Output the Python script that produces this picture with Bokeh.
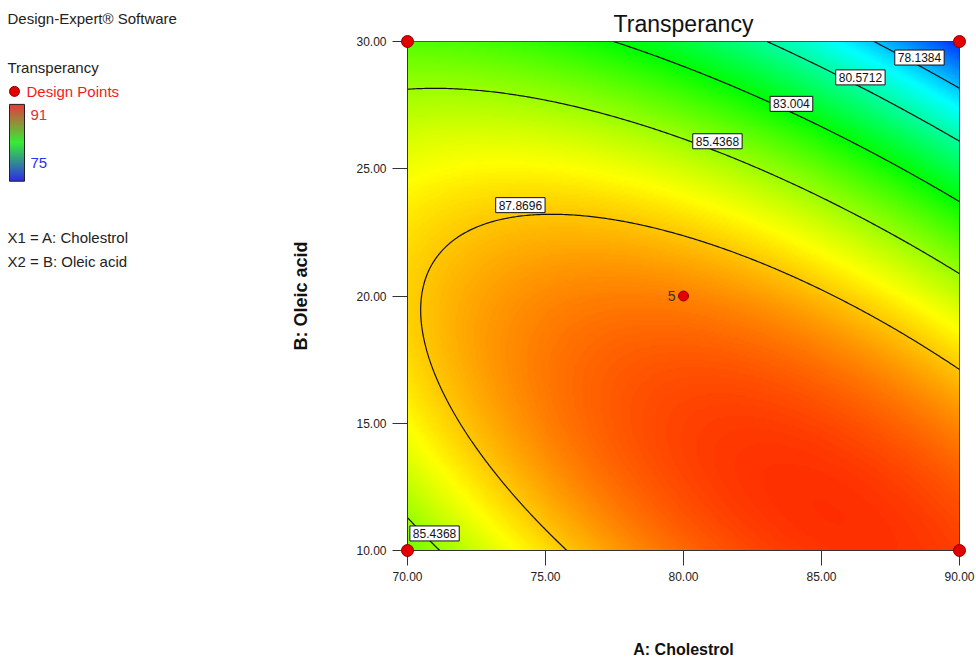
import numpy as np
from bokeh.plotting import figure
from bokeh.models import Range1d, LinearColorMapper, FixedTicker, NumeralTickFormatter, Label
from bokeh.layouts import row
from bokeh.embed import file_html
from bokeh.resources import INLINE
from bokeh.core.properties import value

FONT = "Liberation Sans"

# ---------------- data ----------------
# quadratic response-surface coefficients (coded units: x1=(A-80)/10, x2=(B-20)/10),
# estimated from the contour positions and colours in the picture
b0, bA, bB, bAB, bAA, bBB = 88.913, -0.814, -3.649, -3.461, -2.016, -3.214

contour_levels = [78.1384, 80.5712, 83.004, 85.4368, 87.8696]

design_A = [70, 70, 90, 90, 80]
design_B = [10, 30, 10, 30, 20]
design_size = [12, 12, 12, 12, 10]

x_ticks = [70, 75, 80, 85, 90]
y_ticks = [10, 15, 20, 25, 30]

label_text = ["78.1384", "80.5712", "83.004", "85.4368", "87.8696", "85.4368"]
label_A = [88.55, 86.41, 83.91, 81.23, 74.09, 70.98]
label_B = [29.37, 28.59, 27.55, 26.08, 23.57, 10.67]

color_low, color_high = 75, 91


# ---------------- model surface ----------------
def model(a, b):
    c1 = (a - 80) / 10
    c2 = (b - 20) / 10
    return b0 + bA * c1 + bB * c2 + bAB * c1 * c2 + bAA * c1 ** 2 + bBB * c2 ** 2


gA = np.linspace(70, 90, 277)
gB = np.linspace(10, 30, 256)
AA, BB = np.meshgrid(gA, gB)
Z = model(AA, BB)


def interp_palette(stops, n=256):
    stops = np.array(stops, dtype=float)
    pos = np.linspace(0, 1, len(stops))
    t = np.linspace(0, 1, n)
    cols = []
    for v in t:
        r = np.interp(v, pos, stops[:, 0])
        g = np.interp(v, pos, stops[:, 1])
        b = np.interp(v, pos, stops[:, 2])
        cols.append("#%02x%02x%02x" % (int(round(r)), int(round(g)), int(round(b))))
    return cols


heat_palette = interp_palette([(0, 0, 255), (0, 255, 255), (0, 255, 0), (255, 255, 0), (255, 0, 0)])
mapper = LinearColorMapper(palette=heat_palette, low=color_low, high=color_high)

# ---------------- main figure ----------------
p = figure(width=696, height=660, x_range=Range1d(70, 90), y_range=Range1d(10, 30),
           output_backend="svg", toolbar_location=None, title="Transperancy",
           min_border_left=127, min_border_right=17, min_border_top=41, min_border_bottom=109)
p.title.text_font = FONT
p.title.text_font_size = "23px"
p.title.text_font_style = "normal"
p.title.align = "center"
p.title.text_color = "#111111"
p.title.offset = 0
p.grid.visible = False
p.outline_line_color = "#333333"
p.background_fill_color = "white"

p.image(image=[Z], x=70, y=10, dw=20, dh=20, color_mapper=mapper)
p.contour(gA, gB, Z, levels=contour_levels, line_color="#111111", line_width=1.2)

p.xaxis.ticker = FixedTicker(ticks=x_ticks)
p.yaxis.ticker = FixedTicker(ticks=y_ticks)
p.xaxis.formatter = NumeralTickFormatter(format="0.00")
p.yaxis.formatter = NumeralTickFormatter(format="0.00")
p.axis.major_tick_out = 15
p.axis.major_tick_in = 0
p.axis.minor_tick_out = 0
p.axis.minor_tick_in = 0
p.axis.axis_line_color = "#333333"
p.axis.major_tick_line_color = "#333333"
p.axis.major_label_text_font = FONT
p.axis.major_label_text_font_size = "12px"
p.axis.major_label_text_color = "#222222"
p.axis.major_label_standoff = 6
p.xaxis.axis_label = "A: Cholestrol"
p.yaxis.axis_label = "B: Oleic acid"
p.axis.axis_label_text_font = FONT
p.axis.axis_label_text_font_style = "bold"
p.axis.axis_label_text_color = "#111111"
p.xaxis.axis_label_text_font_size = "16px"
p.yaxis.axis_label_text_font_size = "18px"
p.xaxis.axis_label_standoff = 57
p.yaxis.axis_label_standoff = 42

for t, a, b in zip(label_text, label_A, label_B):
    p.add_layout(Label(x=a, y=b, text=t, text_align="center", text_baseline="middle",
                       text_font=FONT, text_font_size="12px", text_color="#111111",
                       background_fill_color="white", border_line_color="#111111",
                       border_line_width=1, padding=3))

p.scatter(design_A, design_B, size=design_size, fill_color="#e40000", line_color="#900000",
          line_width=1, level="overlay")
p.add_layout(Label(x=80, y=20, text="5", x_offset=-8, text_align="right", text_baseline="middle",
                   text_font=FONT, text_font_size="14px", text_color="#333333"))

# ---------------- left legend panel (pixel coordinates) ----------------
lp = figure(width=280, height=660, x_range=Range1d(0, 280), y_range=Range1d(551, 41),
            output_backend="svg", toolbar_location=None,
            min_border_left=0, min_border_right=0, min_border_top=41, min_border_bottom=109)
lp.axis.visible = False
lp.grid.visible = False
lp.outline_line_color = None

lp.text(x=[7, 7, 7, 7], y=[18, 67, 237, 261],
        text=["Design-Expert\u00ae Software", "Transperancy", "X1 = A: Cholestrol", "X2 = B: Oleic acid"],
        text_font=value(FONT), text_font_size="15px", text_color="#222222",
        text_baseline="middle", text_align="left", level="overlay")
lp.scatter([14], [91], size=10, fill_color="#e40000", line_color="#900000", level="overlay")
lp.text(x=[26], y=[91], text=["Design Points"], text_font=value(FONT), text_font_size="15px",
        text_color="#f01c1c", text_baseline="middle", level="overlay")
lp.text(x=[30, 30], y=[115, 163], text=["91", "75"], text_font=value(FONT), text_font_size="15px",
        text_color=["#e03030", "#3030f0"], text_baseline="middle", level="overlay")

bar_cols = interp_palette([(220, 0, 0), (0, 230, 0), (0, 0, 230)], n=77)
tops = [104 + i for i in range(77)]
lp.quad(left=9, right=24, top=tops, bottom=[t + 1 for t in tops], fill_color=bar_cols,
        line_color=None, level="overlay")
lp.quad(left=[9], right=[24], top=[104], bottom=[181], fill_color=None, line_color="#222222",
        level="overlay")

open("out.html", "w").write(file_html(row(lp, p), INLINE))
